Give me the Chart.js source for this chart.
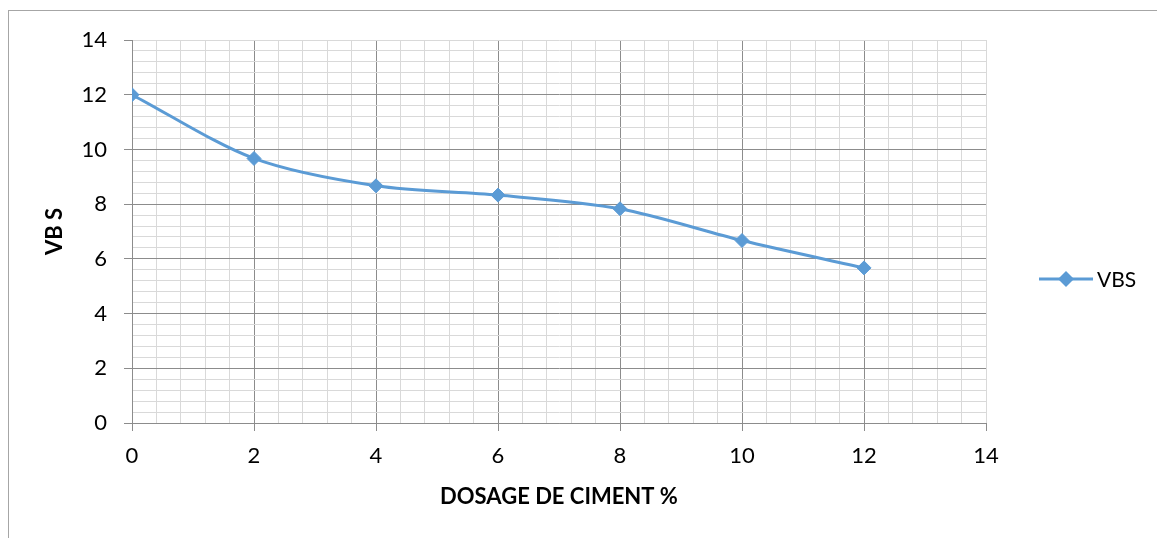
<!DOCTYPE html>
<html>
<head>
<meta charset="utf-8">
<script src="https://cdn.jsdelivr.net/npm/chart.js@4"></script>
<style>
    html, body { margin: 0; padding: 0; background: #ffffff; overflow: hidden; }
    #frame {
        position: absolute; left: 8px; top: 10px; width: 1300px; height: 600px;
        border: 1px solid #a6a6a6; box-sizing: border-box;
    }
    #wrap { position: absolute; left: 0; top: 0; width: 1157px; height: 538px; }
</style>
</head>
<body>
<div id="frame"></div>
<div id="wrap"><canvas id="vbsChart" width="1157" height="538"></canvas></div>
<script>
// VBS vs cement dosage
const dosage = [0, 2, 4, 6, 8, 10, 12];
const vbsValues = [12, 9.67, 8.67, 8.33, 7.83, 6.67, 5.67];
const seriesLabel = 'VBS';
const xTitle = 'DOSAGE DE CIMENT %';
const yTitle = 'VB S';

const lineColor = '#5b9bd5';
const majorGrid = '#8c8c8c';
const minorGrid = '#d9d9d9';

function isMajor(v) {
    const q = v / 2;
    return Math.abs(q - Math.round(q)) < 1e-6 && v < 13.9;
}

function gridColor(ctx) {
    return isMajor(ctx.tick.value) ? majorGrid : minorGrid;
}

function tickColor(ctx) {
    return isMajor(ctx.tick.value) || Math.abs(ctx.tick.value - 14) < 1e-6 ? majorGrid : 'rgba(0,0,0,0)';
}

function tickLabel(v) {
    const q = v / 2;
    return Math.abs(q - Math.round(q)) < 1e-6 ? Math.round(v).toString() : '';
}

// Legend drawn like the office style: line with a diamond marker
const sideLegend = {
    id: 'sideLegend',
    afterDraw(chart) {
        const c = chart.ctx;
        const y = 279;
        c.save();
        c.strokeStyle = lineColor;
        c.lineWidth = 3;
        c.beginPath();
        c.moveTo(1039, y);
        c.lineTo(1093, y);
        c.stroke();
        c.fillStyle = lineColor;
        c.beginPath();
        c.moveTo(1066 - 8, y);
        c.lineTo(1066, y - 8);
        c.lineTo(1066 + 8, y);
        c.lineTo(1066, y + 8);
        c.closePath();
        c.fill();
        c.fillStyle = '#000';
        c.font = '21px Lato';
        c.textBaseline = 'middle';
        c.fillText(chart.data.datasets[0].label, 1097, y + 1);
        c.restore();
    }
};

function initChart() {
    const ctx = document.getElementById('vbsChart').getContext('2d');
    new Chart(ctx, {
        type: 'line',
        data: {
            datasets: [{
                label: seriesLabel,
                data: dosage.map((x, i) => ({ x: x, y: vbsValues[i] })),
                borderColor: lineColor,
                backgroundColor: lineColor,
                borderWidth: 3,
                tension: 0.3,
                pointStyle: 'rectRot',
                pointRadius: 7,
                pointBorderWidth: 1,
                pointBackgroundColor: lineColor,
                pointBorderColor: lineColor
            }]
        },
        options: {
            responsive: false,
            animation: false,
            layout: { padding: { left: 0, top: 40, right: 171, bottom: 0 } },
            scales: {
                x: {
                    type: 'linear',
                    min: 0,
                    max: 14,
                    afterFit: (scale) => { scale.height = 115; },
                    ticks: {
                        stepSize: 0.4,
                        autoSkip: false,
                        maxRotation: 0,
                        color: '#000',
                        font: { family: 'Lato', size: 22 },
                        padding: 12,
                        callback: tickLabel
                    },
                    grid: { color: gridColor, tickColor: tickColor, tickLength: 8, lineWidth: 1 },
                    border: { color: majorGrid, width: 1 },
                    title: {
                        display: true,
                        text: xTitle,
                        color: '#000',
                        font: { family: 'Lato', size: 22, weight: 'bold' },
                        padding: { top: 0, bottom: 28 }
                    }
                },
                y: {
                    min: 0,
                    max: 14,
                    afterFit: (scale) => { scale.width = 132; },
                    ticks: {
                        stepSize: 0.4,
                        autoSkip: false,
                        color: '#000',
                        font: { family: 'Lato', size: 22 },
                        padding: 17,
                        callback: tickLabel
                    },
                    grid: { color: gridColor, tickColor: tickColor, tickLength: 8, lineWidth: 1 },
                    border: { color: majorGrid, width: 1 },
                    title: {
                        display: true,
                        text: yTitle,
                        color: '#000',
                        font: { family: 'Lato', size: 22, weight: 'bold' },
                        padding: { top: 42, bottom: 0 }
                    }
                }
            },
            plugins: {
                legend: { display: false },
                tooltip: { enabled: false }
            }
        },
        plugins: [sideLegend]
    });
}

window.onload = () => {
    initChart();
};
</script>
</body>
</html>
